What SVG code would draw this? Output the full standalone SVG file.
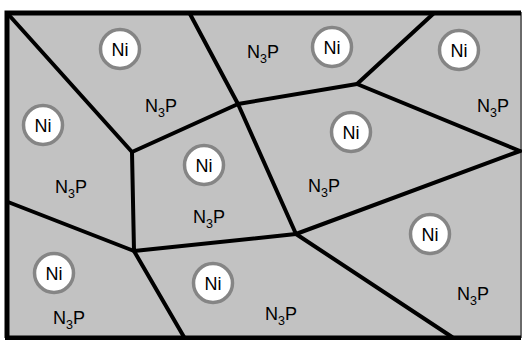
<svg xmlns="http://www.w3.org/2000/svg" width="523" height="340" viewBox="0 0 523 340">
<style>
.t{font-family:"Liberation Sans",Arial,sans-serif;font-size:18px;fill:#000}
.s{font-size:12.5px}
.c{fill:#fff;stroke:#858585;stroke-width:3.5}
.e{fill:none;stroke:#000;stroke-width:4;stroke-linecap:round;stroke-linejoin:round}
</style>
<rect width="523" height="340" fill="#fff"/>
<rect x="7" y="13" width="514" height="325" fill="#c2c2c2"/>
<line x1="521" y1="12" x2="521" y2="338" stroke="#6a6a6a" stroke-width="2"/>
<path d="M7,338 V13 H521" fill="none" stroke="#000" stroke-width="5"/>
<line x1="5" y1="338" x2="521" y2="338" stroke="#000" stroke-width="5"/>
<g id="connectors" class="e">
<path d="M8,14 L132,152 L238,104 L190,14"/>
<path d="M238,104 L357,84 L433,14"/>
<path d="M357,84 L520,151"/>
<path d="M238,104 L296,234 L520,151"/>
<path d="M296,234 L452,337"/>
<path d="M132,152 L134,251 L296,234"/>
<path d="M8,202 L134,251 L184,337"/>
</g>
<g id="ni1"><circle class="c" cx="120" cy="49" r="19.5"/><text class="t" x="120" y="55.5" text-anchor="middle">Ni</text></g>
<g id="ni2"><circle class="c" cx="43" cy="125" r="19.5"/><text class="t" x="43" y="131.5" text-anchor="middle">Ni</text></g>
<g id="ni3"><circle class="c" cx="332" cy="47" r="19.5"/><text class="t" x="332" y="53.5" text-anchor="middle">Ni</text></g>
<g id="ni4"><circle class="c" cx="459" cy="50" r="19.5"/><text class="t" x="459" y="56.5" text-anchor="middle">Ni</text></g>
<g id="ni5"><circle class="c" cx="351" cy="132" r="19.5"/><text class="t" x="351" y="138.5" text-anchor="middle">Ni</text></g>
<g id="ni6"><circle class="c" cx="204" cy="165" r="19.5"/><text class="t" x="204" y="171.5" text-anchor="middle">Ni</text></g>
<g id="ni7"><circle class="c" cx="54" cy="273" r="19.5"/><text class="t" x="54" y="279.5" text-anchor="middle">Ni</text></g>
<g id="ni8"><circle class="c" cx="213" cy="283" r="19.5"/><text class="t" x="213" y="289.5" text-anchor="middle">Ni</text></g>
<g id="ni9"><circle class="c" cx="430" cy="234" r="19.5"/><text class="t" x="430" y="240.5" text-anchor="middle">Ni</text></g>
<g id="n3p1"><text class="t" x="145" y="112">N<tspan class="s" dy="5">3</tspan><tspan dy="-5">P</tspan></text></g>
<g id="n3p2"><text class="t" x="247" y="58">N<tspan class="s" dy="5">3</tspan><tspan dy="-5">P</tspan></text></g>
<g id="n3p3"><text class="t" x="477" y="112">N<tspan class="s" dy="5">3</tspan><tspan dy="-5">P</tspan></text></g>
<g id="n3p4"><text class="t" x="55" y="193">N<tspan class="s" dy="5">3</tspan><tspan dy="-5">P</tspan></text></g>
<g id="n3p5"><text class="t" x="193" y="223">N<tspan class="s" dy="5">3</tspan><tspan dy="-5">P</tspan></text></g>
<g id="n3p6"><text class="t" x="308" y="192">N<tspan class="s" dy="5">3</tspan><tspan dy="-5">P</tspan></text></g>
<g id="n3p7"><text class="t" x="53" y="324">N<tspan class="s" dy="5">3</tspan><tspan dy="-5">P</tspan></text></g>
<g id="n3p8"><text class="t" x="265" y="320">N<tspan class="s" dy="5">3</tspan><tspan dy="-5">P</tspan></text></g>
<g id="n3p9"><text class="t" x="457" y="300">N<tspan class="s" dy="5">3</tspan><tspan dy="-5">P</tspan></text></g>
</svg>
